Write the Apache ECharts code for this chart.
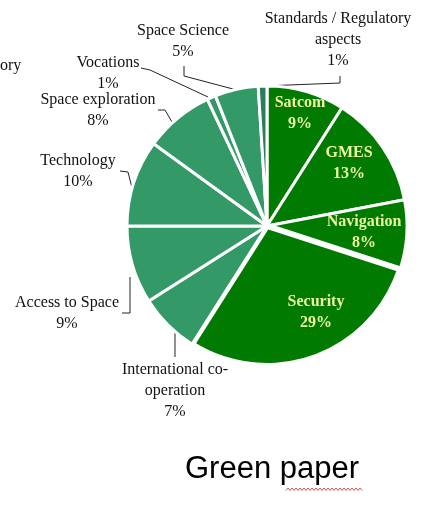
<!DOCTYPE html>
<html>
<head>
<meta charset="utf-8">
<style>
  html, body { margin: 0; padding: 0; background: #fff; }
  #chart { width: 421px; height: 505px; }
</style>
<script src="https://cdn.jsdelivr.net/npm/echarts@6/dist/echarts.min.js"></script>
</head>
<body>
<div id="chart"></div>
<script>
// slices, clockwise from 12 o'clock
var categories = ['Satcom', 'GMES', 'Navigation', 'Security', 'International co-\noperation',
  'Access to Space', 'Technology', 'Space exploration', 'Vocations', 'Space Science',
  'Standards / Regulatory\naspects'];
var shares = [9, 13, 8, 29, 7, 9, 10, 8, 1, 5, 1];
// the first four are the dark "core" slices
var coreCount = 4;

var darkGreen = '#007a00';
var lightGreen = '#339966';

// label centre + leader line for each slice (index order as above)
var labelPos = [
  [300, 113], [349, 163], [364, 232], [316, 312],
  [175, 391, [[175, 333], [175, 345], [175, 357]]],
  [67, 313, [[130, 277], [130, 313], [122, 313]]],
  [78, 171, [[133, 192], [128, 172], [120, 171]]],
  [98, 110, [[172, 122], [165, 110], [158, 110]]],
  [108, 73, [[208, 97], [150, 70], [141, 68]]],
  [183, 41, [[233, 89], [184, 76], [184, 66]]],
  [338, 40, [[263, 86], [340, 83], [340, 76]]]
];

var myChart = echarts.init(document.getElementById('chart'));

var data = shares.map(function (v, i) {
  var core = i < coreCount;
  var item = {
    name: categories[i],
    value: v,
    itemStyle: { color: i === 10 ? '#2c7d5c' : (core ? darkGreen : lightGreen) }
  };
  if (core) {
    item.label = { color: '#eef5a0', fontWeight: 'bold', fontSize: 16 };
    item.labelLine = { show: false };
  }
  // wider white gap round the Security slice
  if (i === 3) item.itemStyle.borderWidth = 6;
  return item;
});

// squiggly spell-check underline under "paper"
var squiggle = [];
for (var sx = 286; sx <= 362; sx += 2) {
  squiggle.push([sx, (sx / 2) % 2 === 0 ? 488 : 490.5]);
}

myChart.setOption({
  animation: false,
  series: [{
    type: 'pie',
    center: [267, 226],
    radius: [0, 140],
    startAngle: 90,
    clockwise: true,
    avoidLabelOverlap: false,
    itemStyle: { borderColor: '#fff', borderWidth: 3 },
    emphasis: { disabled: true },
    label: {
      show: true,
      position: 'outside',
      formatter: '{b}\n{c}%',
      fontFamily: 'Liberation Serif',
      fontSize: 16,
      lineHeight: 21,
      color: '#111',
      align: 'center'
    },
    labelLine: {
      show: true,
      lineStyle: { color: '#222', width: 1 }
    },
    labelLayout: function (params) {
      var p = labelPos[params.dataIndex];
      var out = { x: p[0], y: p[1], align: 'center', verticalAlign: 'middle' };
      if (p[2]) out.labelLinePoints = p[2];
      return out;
    },
    data: data
  }],
  graphic: [
    {
      type: 'text', left: 0, top: 58,
      style: { text: 'ory', font: '16px "Liberation Serif"', fill: '#111' }
    },
    {
      type: 'text', left: 185, top: 454,
      style: { text: 'Green paper', font: '31px "Liberation Sans"', fill: '#000' }
    },
    {
      type: 'polyline',
      shape: { points: squiggle },
      style: { stroke: '#d05050', lineWidth: 1, fill: null }
    }
  ]
});
</script>
</body>
</html>
